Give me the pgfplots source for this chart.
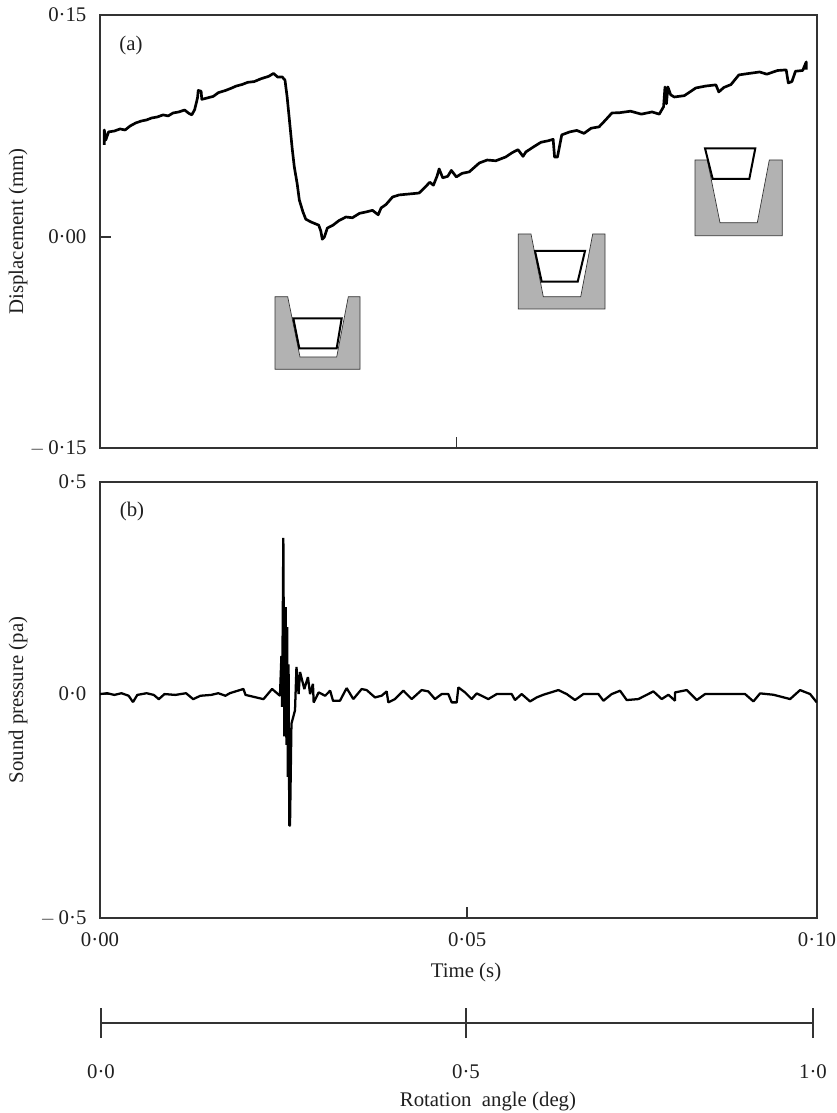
\documentclass[border=0pt]{standalone}
\usepackage{fontspec}
\setmainfont{Liberation Serif}
\usepackage{pgfplots}
\pgfplotsset{compat=1.18}
\definecolor{frame}{gray}{0.2}
\definecolor{txt}{gray}{0.12}
\definecolor{sect}{gray}{0.7}
\newcommand{\lab}{\fontsize{15.6}{18}\selectfont\color{txt}}
\pgfplotsset{
  panel/.style={
    scale only axis, width=537.75pt,
    xmin=0, xmax=0.1,
    axis line style={line width=1.6pt, draw=frame},
    tick align=inside, tick pos=left,
    major tick length=8pt,
    tick style={line width=1.2pt, draw=frame},
    tick label style={font=\lab, inner sep=0pt},
    yticklabel style={anchor=east, xshift=-10pt},
    xticklabel style={anchor=north, yshift=-11pt},
    y label style={font=\lab},
    x label style={font=\lab},
  }
}
\begin{document}
\begin{tikzpicture}
\path[use as bounding box] (0pt,0pt) rectangle (627pt,834.75pt);
\begin{axis}[panel, at={(75pt,498.75pt)}, anchor=south west, height=324.75pt,
  ymin=-0.14257, ymax=0.15,
  ytick={-0.14257,0,0.15},
  yticklabels={$-$\,0·15,0·00,0·15},
  xtick={0.0497}, xticklabels={},
  ylabel={Displacement (mm)},
  ylabel style={at={(rel axis cs:0,0.5)}, anchor=center, yshift=61.5pt, inner sep=0pt},
]
\addplot[black, line width=2pt, line join=round] coordinates {
(.0006,.0622)(.0006,.0723)(.0008,.0655)(.0012,.0710)(.002,.0716)(.0028,.0730)(.0035,.0723)(.0042,.0750)(.005,.0771)(.0058,.0784)
(.0065,.0791)(.0072,.0804)(.008,.0811)(.0088,.0825)(.0095,.0818)(.0102,.0838)(.011,.0845)(.0118,.0858)(.0124,.0835)(.0128,.0825)
(.0132,.0860)(.0136,.0940)(.0137,.0990)(.0141,.0985)(.0142,.0930)(.0150,.0940)(.0158,.0950)(.0165,.0975)(.0175,.0990)(.0183,.1005)
(.0190,.1020)(.0198,.1030)(.0206,.1045)(.0215,.1050)(.0225,.1070)(.0235,.1085)(.0242,.1105)(.0248,.1080)(.0254,.1082)(.0258,.1060)
(.0261,.0946)(.0265,.0750)(.0268,.0600)(.0271,.0473)(.0275,.0360)(.0278,.0250)(.0283,.0170)(.0287,.0120)(.0295,.0100)(.0301,.0088)
(.0305,.0080)(.0308,.0040)(.0310,-.0015)(.0313,.0000)(.0317,.0060)(.0325,.0080)(.0333,.0110)(.0343,.0135)(.0352,.0130)(.0362,.0160)
(.0371,.0169)(.0380,.0180)(.0388,.0150)(.0392,.0196)(.0399,.0220)(.0408,.0270)(.0417,.0284)(.0430,.0290)(.0445,.0297)(.0452,.0330)
(.0460,.0370)(.0465,.0350)(.0470,.0410)(.0473,.0460)(.0478,.0400)(.0485,.0410)(.0490,.0450)(.0497,.0406)(.0505,.0430)(.0515,.0440)
(.0529,.0500)(.0540,.0520)(.0552,.0515)(.0566,.0541)(.0575,.0570)(.0583,.0590)(.0590,.0545)(.0594,.0575)(.0605,.0610)(.0615,.0640)
(.0625,.0650)(.0632,.0660)(.0634,.0540)(.0638,.0540)(.0644,.0690)(.0655,.0710)(.0665,.0720)(.0675,.0700)(.0685,.0735)(.0696,.0744)
(.0705,.0790)(.0714,.0838)(.0725,.0840)(.0740,.0850)(.0755,.0830)(.0770,.0845)(.0780,.0830)(.0786,.0880)(.0788,.1014)(.0790,.0900)
(.0792,.1014)(.0796,.0960)(.0801,.0946)(.0815,.0955)(.0831,.1007)(.0845,.1020)(.0859,.1028)(.0863,.0980)(.0870,.1010)(.0880,.1030)
(.0891,.1095)(.0905,.1105)(.0920,.1115)(.0930,.1100)(.0945,.1125)(.0957,.1129)(.0960,.1041)(.0965,.1050)(.0970,.1120)(.0980,.1125)
(.0985,.1183)(.0985,.1130)
};
\end{axis}
\begin{axis}[panel, at={(75pt,146.25pt)}, anchor=south west, height=327pt,
  ymin=-0.528, ymax=0.5,
  ytick={-0.528,0,0.5},
  yticklabels={$-$\,0·5,0·0,0·5},
  xtick={0,0.0512,0.1},
  xticklabels={0·00,0·05,0·10},
  xlabel={Time (s)},
  xlabel style={at={(rel axis cs:0.5105,0)}, anchor=center, yshift=-40.5pt, inner sep=0pt},
  ylabel={Sound pressure (pa)},
  ylabel style={at={(rel axis cs:0,0.5)}, anchor=center, yshift=61.5pt, inner sep=0pt},
]
\addplot[black, line width=1.7pt, line join=bevel] coordinates {
(0,0)(.001,.002)(.002,-.002)(.003,.002)(.0040,-.004)(.0046,-.019)(.0052,-.002)(.0065,.002)(.0075,-.002)(.0082,-.012)
(.009,0)(.0105,-.002)(.012,.002)(.013,-.012)(.014,-.004)(.0155,-.002)(.0165,.002)(.0175,-.004)(.0181,.002)(.0200,.012)(.0203,-.002)
(.0218,-.008)(.0228,-.012)(.0240,.012)(.0251,-.004)(.0253,.09)(.0254,-.03)(.02557,.368)(.0257,-.10)(.0259,.205)(.0260,-.12)
(.0261,.158)(.0262,-.195)(.0263,.07)(.0264,-.31)(.0266,-.31)(.0265,-.31)(.0267,-.07)(.0272,-.038)(.0274,.064)(.0277,0)(.0279,.052)
(.0285,.012)(.029,.04)(.0293,0)(.0297,.024)(.0298,-.02)(.0305,.004)(.0314,-.004)(.0321,.008)(.0325,-.016)
(.03347,-.0157)(.03440,.0141)(.03533,-.0118)(.03649,.0118)(.03719,.0094)(.03835,-.0079)(.03928,-.0039)(.03998,.0063)(.04021,-.0196)
(.04114,-.0118)(.04231,.0079)(.04347,-.0118)(.04486,.0094)(.04579,.0063)(.04672,-.0118)(.04765,0)(.04858,0)(.04905,-.0196)(.04975,-.0196)
(.04998,.0157)(.05091,.0039)(.05184,-.0118)(.05254,.0016)(.05416,-.0118)(.05533,0)(.05742,0)(.05788,-.0141)(.05881,0)(.05998,-.0173)
(.06091,-.0079)(.06184,-.0016)(.06393,.0094)(.06509,0)(.06625,-.0141)(.06742,0)(.06951,0)(.07021,-.0157)(.07137,0)(.07253,.0079)
(.07346,-.0141)(.07509,-.0118)(.07718,.0063)(.07834,-.0118)(.07927,-.0016)(.08020,-.0157)(.08020,.0039)(.08183,.0094)(.08323,-.0141)
(.08439,0)(.08695,0)(.08997,0)(.09113,-.0173)(.09206,.0016)(.09392,-.0016)(.09625,-.0118)(.09764,.0094)(.09904,0)(.09997,-.0196)
};
\end{axis}
\begin{axis}[scale only axis, at={(75.75pt,67.5pt)}, anchor=south west, width=534pt, height=10pt,
  xmin=0, xmax=1, ymin=0, ymax=1,
  hide y axis, axis x line*=bottom,
  axis line style={line width=1.2pt, draw=frame, -},
  xtick={0,0.5126,1}, xticklabels={0·0,0·5,1·0},
  tick align=center, major tick length=22.5pt,
  tick style={line width=1.2pt, draw=frame},
  tick label style={font=\lab, inner sep=0pt},
  xticklabel style={anchor=north, yshift=-20pt},
  xlabel={Rotation\hspace{0.25em} angle (deg)},
  xlabel style={font=\lab, at={(rel axis cs:0.5435,0)}, anchor=center, yshift=-59pt, inner sep=0pt},
]
\end{axis}
\begin{scope}[x=0.75pt,y=-0.75pt,yshift=834.75pt]
\node[font=\lab] at (131,46) {(a)};
\node[font=\lab] at (132,512) {(b)};
\fill[sect,draw=frame,line width=0.5pt] (275,296.7)--(287.7,296.7)--(300,357)--(336.7,357)--(348.3,296.7)--(360,296.7)--(360,369.3)--(275,369.3)--cycle;
\draw[black,fill=white,line width=1.5pt] (293.3,318.3)--(341.7,318.3)--(336.7,348.3)--(299.3,348.3)--cycle;
\fill[sect,draw=frame,line width=0.5pt] (518.3,234)--(531,234)--(543.3,296.7)--(580.7,296.7)--(592.7,234)--(605,234)--(605,309)--(518.3,309)--cycle;
\draw[black,fill=white,line width=1.5pt] (535,251)--(585,251)--(577.7,281.7)--(541.7,281.7)--cycle;
\fill[sect,draw=frame,line width=0.5pt] (695,160)--(707.3,160)--(720,222.7)--(757.3,222.7)--(769.3,160)--(782.3,160)--(782.3,235.7)--(695,235.7)--cycle;
\draw[black,fill=white,line width=1.5pt] (705,148.3)--(755.3,148.3)--(749.3,179)--(712.7,179)--cycle;
\end{scope}
\end{tikzpicture}
\end{document}
